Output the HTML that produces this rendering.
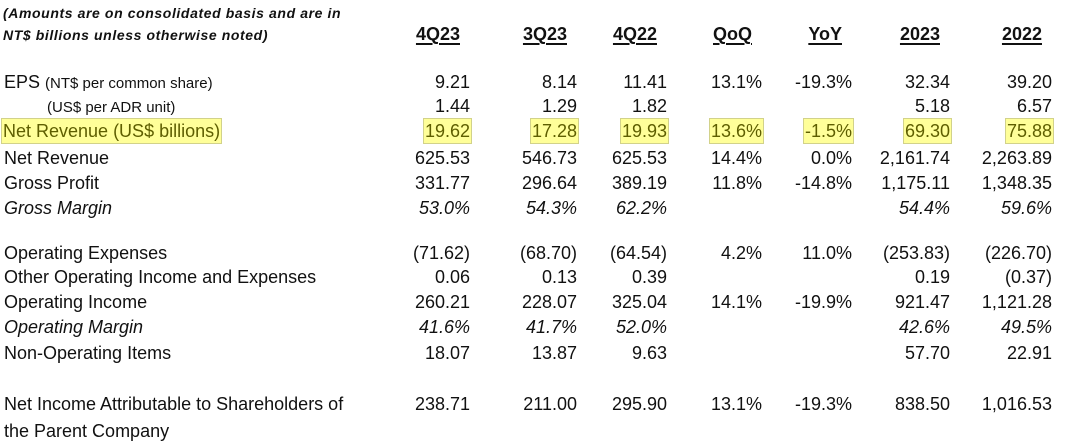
<!DOCTYPE html>
<html><head><meta charset="utf-8"><style>
body{margin:0;width:1077px;height:445px;background:#fff;position:relative;overflow:hidden;font-family:"Liberation Sans",Arial,sans-serif;color:#111}
.t{position:absolute;white-space:nowrap;font-size:18px;line-height:22px}
.r{text-align:right}
.h{position:absolute;font-weight:bold;font-size:18px;text-decoration:underline;text-underline-offset:3px;text-decoration-thickness:2px;line-height:22px}
.note{position:absolute;left:3px;top:2px;font-size:14px;letter-spacing:0.6px;font-weight:bold;font-style:italic;line-height:22px;white-space:nowrap}
.hl{background:#ffff99;border:1px solid #d2d28a;color:#5e5e00;padding:2px 1px}
i{font-style:italic}
</style></head><body>
<div class="note">(Amounts are on consolidated basis and are in<br>NT$ billions unless otherwise noted)</div>
<div id="hdr"></div>
<div id="tbl"></div>
<script>
const cols=["4Q23","3Q23","4Q22","QoQ","YoY","2023","2022"];
const rights=[470,577,667,762,852,950,1052];
const rows=[
 {label:'EPS <span style="font-size:15px">(NT$ per common share)</span>',y:71,v:["9.21","8.14","11.41","13.1%","-19.3%","32.34","39.20"]},
 {label:'<span style="font-size:15px;padding-left:43px">(US$ per ADR unit)</span>',y:95,v:["1.44","1.29","1.82","","","5.18","6.57"]},
 {label:'Net Revenue (US$ billions)',y:121,v:["19.62","17.28","19.93","13.6%","-1.5%","69.30","75.88"],hl:true},
 {label:'Net Revenue',y:147,v:["625.53","546.73","625.53","14.4%","0.0%","2,161.74","2,263.89"]},
 {label:'Gross Profit',y:172,v:["331.77","296.64","389.19","11.8%","-14.8%","1,175.11","1,348.35"]},
 {label:'<i>Gross Margin</i>',y:197,v:["53.0%","54.3%","62.2%","","","54.4%","59.6%"],it:true},
 {label:'Operating Expenses',y:242,v:["(71.62)","(68.70)","(64.54)","4.2%","11.0%","(253.83)","(226.70)"]},
 {label:'Other Operating Income and Expenses',y:266,v:["0.06","0.13","0.39","","","0.19","(0.37)"]},
 {label:'Operating Income',y:291,v:["260.21","228.07","325.04","14.1%","-19.9%","921.47","1,121.28"]},
 {label:'<i>Operating Margin</i>',y:316,v:["41.6%","41.7%","52.0%","","","42.6%","49.5%"],it:true},
 {label:'Non-Operating Items',y:342,v:["18.07","13.87","9.63","","","57.70","22.91"]},
 {label:'Net Income Attributable to Shareholders of<br>the Parent Company',y:391,v:["238.71","211.00","295.90","13.1%","-19.3%","838.50","1,016.53"]}
];
const hdr=document.getElementById('hdr');
cols.forEach((c,i)=>{const d=document.createElement('div');d.className='h';d.textContent=c;
d.style.right=(1077-rights[i]+10)+'px';d.style.top='23px';

hdr.appendChild(d);});
const tb=document.getElementById('tbl');
rows.forEach((r,ri)=>{
 const l=document.createElement('div');l.className='t';l.style.left=r.hl?'1px':'4px';l.style.top=(r.y-(r.hl?1:0))+'px';
 l.innerHTML=r.hl?'<span class="hl">'+r.label+'</span>':r.label;
 if(ri==11){l.style.lineHeight='27px';}
 
 tb.appendChild(l);
 r.v.forEach((v,i)=>{if(!v)return;const d=document.createElement('div');d.className='t r';
 d.style.right=(1077-rights[i]-(r.hl?2:0))+'px';d.style.top=(r.y-(r.hl?1:0)+(ri==11?2:0))+'px';
 d.innerHTML=r.hl?'<span class="hl">'+v+'</span>':(r.it?'<i>'+v+'</i>':v);
 
 tb.appendChild(d);});
});
</script>
</body></html>
